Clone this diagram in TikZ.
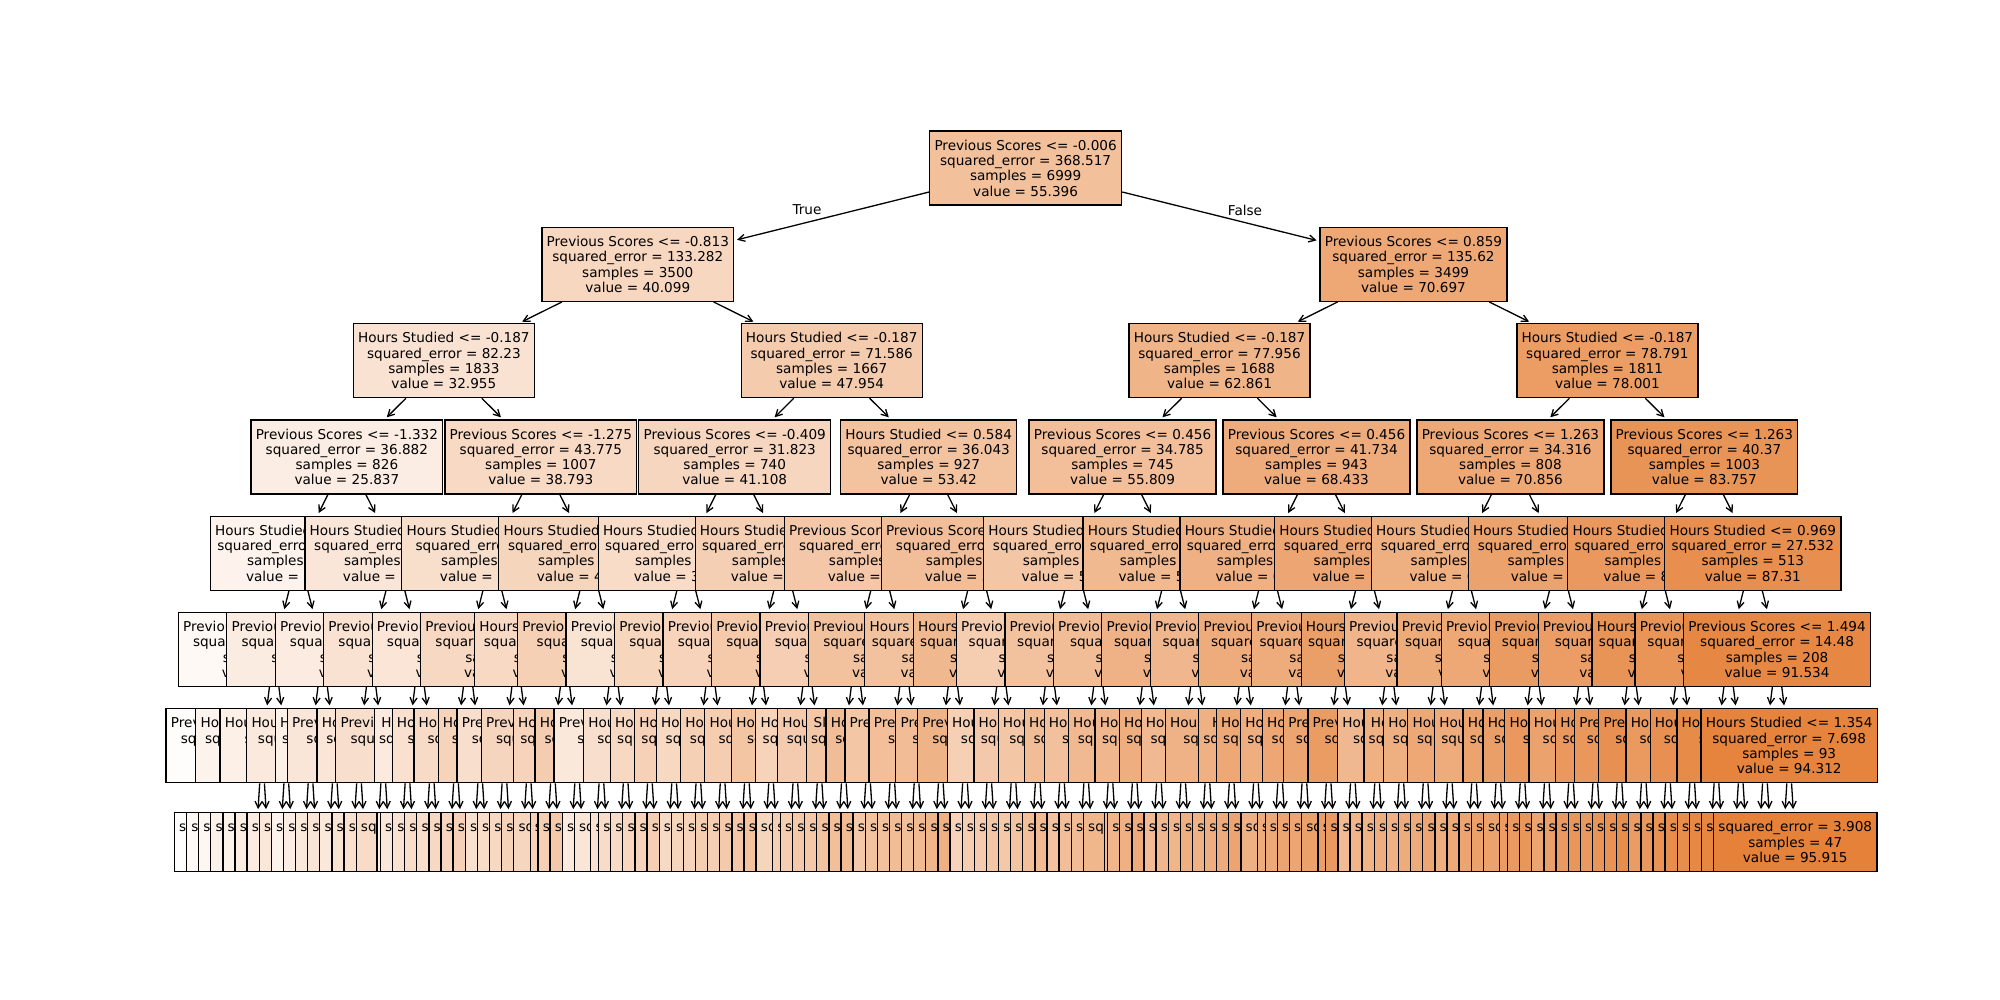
\documentclass[tikz,border=0pt]{standalone}
\usepackage{fontspec}
\setmainfont{DejaVu Sans}
\usetikzlibrary{arrows.meta}
\definecolor{skor}{RGB}{229,129,57}
\pgfkeys{/pgf/number format/.cd,fixed,precision=3,1000 sep={},assume math mode=true}

\newcommand\setknown[6]{%
  \expandafter\gdef\csname K-#1-#2\endcsname{#3\\squared\_error = #4\\samples = #5\\value = #6}%
  \expandafter\gdef\csname V-#1-#2\endcsname{#6}}
\newcommand\setleafknown[5]{%
  \expandafter\gdef\csname K-#1-#2\endcsname{squared\_error = #3\\samples = #4\\value = #5}%
  \expandafter\gdef\csname V-#1-#2\endcsname{#5}}
\expandafter\def\csname FN-P\endcsname{Previous Scores}
\expandafter\def\csname FN-H\endcsname{Hours Studied}
\expandafter\def\csname FN-S\endcsname{Sleep Hours}
\newcommand\setfeats[2]{\foreach \ff [count=\fidx from 0] in {#2} {\expandafter\xdef\csname F-#1-\fidx\endcsname{\ff}}}

\setknown{0}{0}{Previous Scores <= -0.006}{368.517}{6999}{55.396}
\setknown{1}{0}{Previous Scores <= -0.813}{133.282}{3500}{40.099}
\setknown{1}{1}{Previous Scores <= 0.859}{135.62}{3499}{70.697}
\setknown{2}{0}{Hours Studied <= -0.187}{82.23}{1833}{32.955}
\setknown{2}{1}{Hours Studied <= -0.187}{71.586}{1667}{47.954}
\setknown{2}{2}{Hours Studied <= -0.187}{77.956}{1688}{62.861}
\setknown{2}{3}{Hours Studied <= -0.187}{78.791}{1811}{78.001}
\setknown{3}{0}{Previous Scores <= -1.332}{36.882}{826}{25.837}
\setknown{3}{1}{Previous Scores <= -1.275}{43.775}{1007}{38.793}
\setknown{3}{2}{Previous Scores <= -0.409}{31.823}{740}{41.108}
\setknown{3}{3}{Hours Studied <= 0.584}{36.043}{927}{53.42}
\setknown{3}{4}{Previous Scores <= 0.456}{34.785}{745}{55.809}
\setknown{3}{5}{Previous Scores <= 0.456}{41.734}{943}{68.433}
\setknown{3}{6}{Previous Scores <= 1.263}{34.316}{808}{70.856}
\setknown{3}{7}{Previous Scores <= 1.263}{40.37}{1003}{83.757}
\setknown{4}{15}{Hours Studied <= 0.969}{27.532}{513}{87.31}
\setknown{5}{31}{Previous Scores <= 1.494}{14.48}{208}{91.534}
\setknown{6}{63}{Hours Studied <= 1.354}{7.698}{93}{94.312}
\setleafknown{7}{127}{3.908}{47}{95.915}

\setfeats{4}{H,H,H,H,H,H,P,P,H,H,H,H,H,H,H,H}
\setfeats{5}{P,P,P,P,P,P,H,P,P,P,P,P,P,P,H,H,P,P,P,P,P,P,P,H,P,P,P,P,P,H,P,P}
\setfeats{6}{P,H,H,H,H,P,H,P,H,H,H,H,P,P,H,H,P,H,H,H,H,H,H,H,H,H,S,H,P,P,P,P,H,H,H,H,H,H,H,H,H,H,H,H,H,H,P,P,H,H,H,H,H,H,H,H,H,H,P,P,H,H,H,H}

\begin{document}
\begin{tikzpicture}[x=1pt,y=-1pt,
  tn/.style={draw=black,line width=1.3pt,rectangle,inner xsep=4.8pt,inner ysep=0pt,
    minimum height=74pt,align=center,font=\fontsize{13.6}{15.3}\selectfont},
  lf/.style={tn,minimum height=59pt},
  arr/.style={-{Straight Barb[length=6.5pt,width=7pt]},line width=1.3pt,shorten >=2.8pt},
  lbl/.style={font=\fontsize{13.6}{15.3}\selectfont,inner sep=0pt}]
\fill[white] (0,0) rectangle (2000,1000);
\useasboundingbox (0,0) rectangle (2000,1000);
\foreach \L in {0,...,7}{%
  \pgfmathtruncatemacro\Nmax{2^\L-1}%
  \pgfmathtruncatemacro\spn{2^(7-\L)}%
  \pgfmathsetmacro\ncy{168+96.3*\L}%
  \foreach \i in {0,...,\Nmax}{%
    \pgfmathsetmacro\ncx{256+12.12*(\i*\spn+(\spn-1)/2)}%
    \pgfmathtruncatemacro\pidx{floor(\i/2)}%
    \pgfmathtruncatemacro\Lp{\L-1}%
    \ifcsname V-\L-\i\endcsname\else
      \edef\pval{\csname V-\Lp-\pidx\endcsname}%
      \pgfmathsetmacro\dl{ifthenelse(\L==4,3.7,ifthenelse(\L==5,3.6,ifthenelse(\L==6,2.6,1.6)))}%
      \pgfmathsetmacro\tmpv{\pval+(2*mod(\i,2)-1)*\dl*(1+0.25*sin(\i*97))}%
      \expandafter\xdef\csname V-\L-\i\endcsname{\tmpv}%
    \fi
    \edef\nval{\csname V-\L-\i\endcsname}%
    \pgfmathsetmacro\pct{max(0,min(100,100*(\nval-14.337)/(95.915-14.337)))}%
    \ifcsname K-\L-\i\endcsname
      \expandafter\let\expandafter\ntext\csname K-\L-\i\endcsname
    \else
      \pgfmathsetmacro\nse{ifthenelse(\L==4,22,ifthenelse(\L==5,16,ifthenelse(\L==6,11,6)))*(1+0.25*sin(\i*57+\L*11))}%
      \pgfmathtruncatemacro\nsamp{ifthenelse(\L==4,437,ifthenelse(\L==5,218,ifthenelse(\L==6,109,55)))*(1+0.15*sin(\i*37))}%
      \ifnum\L=7
        \edef\ntext{squared\noexpand\_error = \noexpand\pgfmathprintnumber{\nse}\noexpand\\samples = \nsamp\noexpand\\value = \noexpand\pgfmathprintnumber{\nval}}%
      \else
        \edef\fcode{\csname F-\L-\i\endcsname}%
        \if P\fcode
          \pgfmathsetmacro\thr{-1.65+3.3*(\i+0.5)/(2^\L)+0.15*sin(\i*131+\L*17)}%
        \else
          \pgfmathsetmacro\thr{1.3*sin(\i*73+\L*29)}%
        \fi
        \edef\ntext{\csname FN-\fcode\endcsname\space<= \noexpand\pgfmathprintnumber{\thr}\noexpand\\squared\noexpand\_error = \noexpand\pgfmathprintnumber{\nse}\noexpand\\samples = \nsamp\noexpand\\value = \noexpand\pgfmathprintnumber{\nval}}%
      \fi
    \fi
    \ifnum\L=7 \def\nsty{lf}\else\def\nsty{tn}\fi
    \node[\nsty,fill=skor!\pct!white] (n-\L-\i) at (\ncx,\ncy) {\ntext};
    \ifnum\L>0 \draw[arr] (n-\Lp-\pidx) -- (n-\L-\i);\fi
  }%
}
\node[lbl] (tl) at (807,210) {True};
\node[lbl] (fl) at (1245,210) {False};
\end{tikzpicture}
\end{document}
